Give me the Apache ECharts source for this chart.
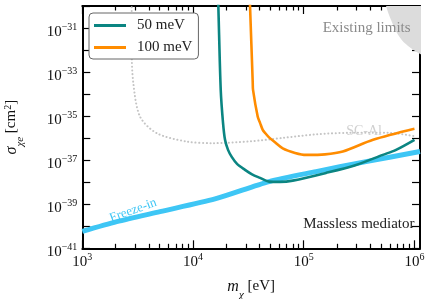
<!DOCTYPE html>
<html>
<head>
<meta charset="utf-8">
<script src="https://cdn.jsdelivr.net/npm/echarts@6/dist/echarts.min.js"></script>
<style>html,body{margin:0;padding:0;background:#fff}#c{width:432px;height:299px}</style>
</head>
<body>
<div id="c"></div>
<script>
// ---- data: log10(m_chi / eV) and log10(sigma / cm^2) ----
var teal_logm   = [4.226, 4.2286, 4.2502, 4.2710, 4.2891, 4.3162, 4.3496, 4.3975, 4.4697, 4.5330, 4.6052, 4.6866, 4.786, 4.9006, 5.2014, 5.4724, 5.7136, 5.8338, 6.0];
var teal_logs   = [-29.7, -30.0, -33.805, -35.305, -36.077, -36.532, -36.85, -37.168, -37.441, -37.645, -37.805, -37.973, -37.986, -37.927, -37.577, -37.214, -36.759, -36.532, -36.077];
var orange_logm = [4.512, 4.5149, 4.5393, 4.542, 4.5845, 4.6052, 4.6296, 4.6504, 4.6866, 4.7317, 4.8103, 4.9214, 5.0208, 5.1924, 5.3523, 5.626, 6.0];
var orange_logs = [-29.7, -30.0, -33.486, -33.805, -35.032, -35.305, -35.623, -35.759, -35.964, -36.155, -36.464, -36.668, -36.759, -36.736, -36.609, -36.077, -35.577];
var freeze_logm = [3.0, 3.3107, 3.7019, 4.1988, 4.6866, 5.111, 5.5627, 6.05];
var freeze_logs = [-40.236, -39.791, -39.336, -38.76, -37.973, -37.518, -37.064, -36.609];
var scal_logm   = [3.4462, 3.4462, 3.4607, 3.5212, 3.6721, 3.9431, 4.1807, 4.5149, 4.813, 5.111, 5.4092, 5.7706, 6.0145];
var scal_logs   = [-29.9, -32.0, -33.497, -35.02, -35.773, -36.155, -36.227, -36.145, -35.986, -35.827, -35.759, -35.759, -35.927];
var excl_logm   = [5.7434, 5.7886, 5.8636, 5.9512, 6.06];
var excl_logs   = [-30.0, -30.636, -31.395, -31.85, -32.2];
var xMajor = [3, 4, 5, 6];
var yMajor = [-41, -40, -39, -38, -37, -36, -35, -34, -33, -32, -31, -30];
var yLabeled = [-41, -39, -37, -35, -33, -31];
var seriesNames = ['50 meV', '100 meV'];

function zip(a, b) { return a.map(function (v, i) { return [v, b[i]]; }); }
var xMinor = [];
[3, 4, 5, 6].forEach(function (d) { for (var k = 2; k <= 9; k++) { var v = d + Math.log10(k); if (v < 6.05) xMinor.push(v); } });

var FONT = 'Liberation Serif';
function supLabel(v) {
  var e = String(v).replace('-', '\u2212');
  return '{b|10}{s|' + e + '}';
}
var richSup = {
  b: { fontFamily: FONT, fontSize: 15, color: '#111', lineHeight: 20 },
  s: { fontFamily: FONT, fontSize: 10, color: '#111', lineHeight: 8, verticalAlign: 'top' }
};

var chart = echarts.init(document.getElementById('c'), null, { renderer: 'canvas' });
var axisLine = { show: true, lineStyle: { color: '#000', width: 2 } };
function xAx(pos, tickVals, len, withLabel, showLine) {
  return {
    type: 'value', min: 3, max: 6.05, position: pos,
    axisLine: showLine ? axisLine : { show: false },
    axisTick: { show: true, inside: true, length: len, customValues: tickVals, lineStyle: { color: '#000', width: 1.2 } },
    axisLabel: withLabel ? { show: true, customValues: xMajor, margin: 4, formatter: supLabel, rich: richSup } : { show: false },
    splitLine: { show: false }
  };
}
var opt = {
  animation: false,
  grid: { left: 82.3, right: 12, top: 6, bottom: 50.7, containLabel: false, outerBoundsMode: 'none' },
  legend: {
    data: seriesNames, orient: 'vertical', left: 89, top: 13,
    padding: [5, 6, 4, 5], itemGap: 7, itemWidth: 32, itemHeight: 3, icon: 'rect',
    borderColor: '#666', borderWidth: 1, borderRadius: 4, backgroundColor: '#fff',
    textStyle: { fontFamily: FONT, fontSize: 15, color: '#222', padding: [0, 0, 0, 6], lineHeight: 14 }
  },
  xAxis: [
    Object.assign(xAx('bottom', xMajor, 8, true, true), {
      name: '{i|m}{sub|\u03c7} [eV]', nameLocation: 'middle', nameGap: 30,
      nameTextStyle: { fontFamily: FONT, fontSize: 15, color: '#111',
        rich: { i: { fontFamily: FONT, fontStyle: 'italic', fontSize: 16, color: '#111' }, sub: { fontFamily: FONT, fontStyle: 'italic', fontSize: 11, color: '#111', verticalAlign: 'bottom', lineHeight: 10, padding: [0, 0, -6, 0] } } }
    }),
    xAx('bottom', xMinor, 4.5, false, false),
    xAx('top', xMajor, 8, false, true),
    xAx('top', xMinor, 4.5, false, false)
  ],
  yAxis: [
    {
      type: 'value', min: -41, max: -30, position: 'left',
      axisLine: axisLine,
      axisTick: { show: true, inside: true, length: 8, customValues: yMajor, lineStyle: { color: '#000', width: 1.2 } },
      axisLabel: { show: true, customValues: yLabeled, margin: 5, padding: [8, 0, 0, 0], formatter: supLabel, rich: richSup },
      splitLine: { show: false },
      name: '{i|\u03c3}{sub|\u03c7e} [cm{sup|2}]', nameLocation: 'middle', nameGap: 63, nameRotate: 90,
      nameTextStyle: { fontFamily: FONT, fontSize: 15, color: '#111',
        rich: { i: { fontFamily: FONT, fontStyle: 'italic', fontSize: 16, color: '#111' },
                sub: { fontFamily: FONT, fontStyle: 'italic', fontSize: 11, color: '#111', verticalAlign: 'bottom', lineHeight: 10, padding: [0, 0, -6, 0] },
                sup: { fontFamily: FONT, fontSize: 10, color: '#111', verticalAlign: 'top', lineHeight: 8 } } }
    },
    {
      type: 'value', min: -41, max: -30, position: 'right',
      axisLine: axisLine,
      axisTick: { show: true, inside: true, length: 8, customValues: yMajor, lineStyle: { color: '#000', width: 1.2 } },
      axisLabel: { show: false }, splitLine: { show: false }
    }
  ],
  series: [
    { name: 'Existing limits', type: 'line', data: zip(excl_logm, excl_logs), showSymbol: false, smooth: 0.4,
      lineStyle: { width: 0 }, areaStyle: { origin: 'end', color: '#dcdcdc', opacity: 1 }, z: 1, silent: true },
    { name: 'SC-Al', type: 'line', data: zip(scal_logm, scal_logs), showSymbol: false, smooth: 0.3,
      lineStyle: { color: '#c4c4c4', width: 2, type: [0.1, 3.6], cap: 'round' }, z: 2 },
    { name: 'Freeze-in', type: 'line', data: zip(freeze_logm, freeze_logs), showSymbol: false, smooth: 0.25,
      lineStyle: { color: '#3ec6f5', width: 5 }, z: 3 },
    { name: '50 meV', type: 'line', data: zip(teal_logm, teal_logs), showSymbol: false, smooth: 0.3,
      color: '#0b8582', lineStyle: { color: '#0b8582', width: 2.6 }, z: 4 },
    { name: '100 meV', type: 'line', data: zip(orange_logm, orange_logs), showSymbol: false, smooth: 0.3,
      color: '#ff8c00', lineStyle: { color: '#ff8c00', width: 2.6 }, z: 5 }
  ]
};
chart.setOption(opt);

function px(lm, ls) { return chart.convertToPixel({ xAxisIndex: 0, yAxisIndex: 0 }, [lm, ls]); }
var pEx = px(5.965, -31.0), pMM = px(6.0, -39.88), pSC = px(5.545, -35.67), pFI = px(3.46, -39.28);
chart.setOption({
  graphic: [
    { type: 'text', x: pEx[0], y: pEx[1], style: { text: 'Existing limits', fontFamily: FONT, fontSize: 15, fill: '#8a8a8a', align: 'right', verticalAlign: 'middle' }, z: 10 },
    { type: 'text', x: pMM[0], y: pMM[1], style: { text: 'Massless mediator', fontFamily: FONT, fontSize: 15, fill: '#222', align: 'right', verticalAlign: 'middle' }, z: 10 },
    { type: 'text', x: pSC[0], y: pSC[1], style: { text: 'SC-Al', fontFamily: FONT, fontSize: 14, fill: '#d0d0d0', align: 'center', verticalAlign: 'middle' }, z: 10 },
    { type: 'text', x: pFI[0], y: pFI[1], rotation: 20 * Math.PI / 180, style: { text: 'Freeze-in', fontFamily: FONT, fontSize: 13, fill: '#3ec6f5', align: 'center', verticalAlign: 'middle' }, z: 10 }
  ]
});
</script>
</body>
</html>
